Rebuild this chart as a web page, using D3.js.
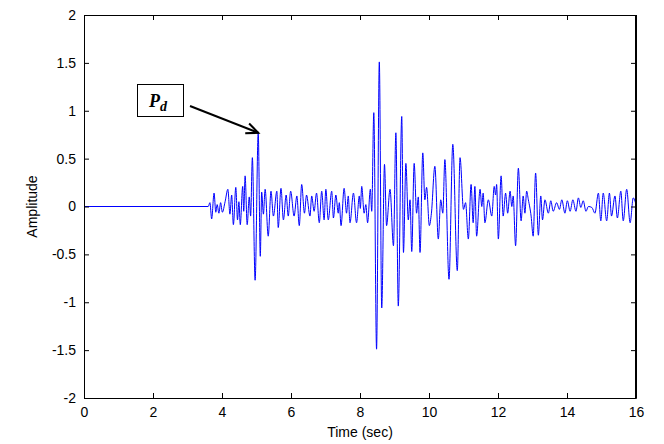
<!DOCTYPE html>
<html>
<head>
<meta charset="utf-8">
<script src="https://cdn.jsdelivr.net/npm/d3@7"></script>
<style>
  html, body { margin: 0; padding: 0; background: #fff; }
  svg { display: block; }
</style>
</head>
<body>
<div id="chart"></div>
<script>
// ---- data ----
const time = [
  0, 3.60, 3.65, 3.70, 3.77, 3.82, 3.86, 3.91, 3.96, 4.01,
  4.09, 4.17, 4.23, 4.28, 4.33, 4.40, 4.45, 4.49, 4.53, 4.60,
  4.63, 4.67, 4.73, 4.79, 4.83, 4.88, 4.96, 5.05, 5.11, 5.15,
  5.20, 5.25, 5.34, 5.42, 5.49, 5.59, 5.63, 5.71, 5.78, 5.86,
  5.92, 5.99, 6.09, 6.17, 6.24, 6.31, 6.39, 6.45, 6.55, 6.60,
  6.67, 6.74, 6.82, 6.89, 6.96, 7.01, 7.08, 7.18, 7.23, 7.30,
  7.37, 7.40, 7.45, 7.54, 7.61, 7.66, 7.71, 7.81, 7.90, 7.98,
  8.01, 8.05, 8.12, 8.17, 8.22, 8.30, 8.34, 8.40, 8.48, 8.56,
  8.63, 8.71, 8.77, 8.87, 8.97, 9.04, 9.11, 9.21, 9.26, 9.33,
  9.40, 9.45, 9.50, 9.57, 9.64, 9.69, 9.74, 9.82, 9.88, 9.93,
  10.01, 10.07, 10.17, 10.27, 10.34, 10.40, 10.46, 10.58, 10.69, 10.82,
  10.90, 11.00, 11.06, 11.14, 11.22, 11.28, 11.33, 11.38, 11.48, 11.53,
  11.57, 11.62, 11.72, 11.82, 11.89, 11.93, 11.96, 12.01, 12.09, 12.15,
  12.22, 12.28, 12.35, 12.40, 12.44, 12.51, 12.59, 12.67, 12.73, 12.78,
  12.83, 12.88, 12.96, 13.02, 13.09, 13.17, 13.24, 13.29, 13.36, 13.46,
  13.53, 13.60, 13.70, 13.78, 13.85, 13.94, 14.01, 14.09, 14.17, 14.26,
  14.33, 14.40, 14.47, 14.55, 14.62, 14.72, 14.81, 14.91, 14.98, 15.05,
  15.15, 15.23, 15.29, 15.39, 15.46, 15.56, 15.63, 15.73, 15.83, 15.92, 16.00
];
const amplitude = [
  0, 0, 0.04, -0.13, 0.14, -0.06, 0.02, -0.07, 0.04, -0.06,
  0.05, 0.18, -0.08, 0.12, -0.19, 0.20, -0.14, 0.05, -0.19, 0.21,
  -0.05, 0.32, -0.19, 0.10, -0.10, 0.51, -0.77, 0.77, -0.52, 0.15,
  -0.08, 0.18, -0.31, 0.16, -0.10, 0.16, -0.22, 0.19, -0.14, 0.12,
  -0.10, 0.16, -0.10, 0.11, -0.20, 0.23, -0.07, 0.12, -0.10, 0.11,
  -0.05, 0.14, -0.17, 0.16, -0.14, 0.18, -0.14, 0.16, -0.12, 0.12,
  -0.07, 0.04, -0.20, 0.19, -0.07, 0.11, -0.17, 0.14, -0.17, 0.11,
  -0.02, 0.21, -0.07, 0.02, -0.17, 0.18, -0.05, 0.98, -1.49, 1.51,
  -1.06, 0.44, -0.20, 0.18, -0.41, 0.77, -1.04, 0.94, -0.48, 0.45,
  -0.14, 0.07, -0.47, 0.45, -0.07, 0.10, -0.48, 0.56, 0.07, 0.20,
  -0.20, -0.07, 0.42, -0.34, 0.07, -0.07, 0.49, -0.76, 0.65, -0.67,
  0.51, -0.03, 0.04, -0.34, 0.23, -0.17, 0.21, -0.31, 0.18, 0.00,
  0.14, -0.17, 0.07, -0.10, 0.21, 0.12, 0.23, -0.34, 0.32, -0.10,
  0.14, -0.07, 0.16, 0.00, 0.11, -0.41, 0.40, -0.15, 0.11, -0.07,
  0.16, 0.07, -0.10, -0.31, 0.35, -0.30, 0.11, -0.14, 0.07, -0.07,
  0.06, -0.05, 0.04, -0.03, 0.07, -0.07, 0.06, -0.05, 0.07, -0.05,
  0.09, -0.01, 0.06, -0.05, 0.00, -0.01, -0.07, 0.14, -0.15, 0.14,
  -0.15, 0.14, -0.10, 0.11, -0.12, 0.16, -0.15, 0.18, -0.17, 0.09, 0.02
];
const xTicks = [0, 2, 4, 6, 8, 10, 12, 14, 16];
const yTicks = [-2, -1.5, -1, -0.5, 0, 0.5, 1, 1.5, 2];
const xLabel = "Time (sec)";
const yLabel = "Amplitude";
const pdTime = 5.05, pdAmp = 0.77;   // annotated P_d peak

// ---- layout ----
const W = 664, H = 444;
const L = 84, R = 636, T = 15, B = 398;

const svg = d3.select("#chart").append("svg")
  .attr("width", W).attr("height", H)
  .style("font-family", "'Liberation Sans', Arial, Helvetica, sans-serif");

svg.append("rect").attr("width", W).attr("height", H).attr("fill", "#fff");

const x = d3.scaleLinear().domain([0, 16]).range([L, R]);
const y = d3.scaleLinear().domain([-2, 2]).range([B, T]);

// waveform
const pts = time.map((t, i) => [t, amplitude[i]]);
const line = d3.line().x(d => x(d[0])).y(d => y(d[1])).curve(d3.curveMonotoneX);
svg.append("path")
  .datum(pts)
  .attr("d", line)
  .attr("fill", "none")
  .attr("stroke", "#0000ff")
  .attr("stroke-width", 1);

// axes (MATLAB style: inward ticks on all sides)
const tl = 5;
const axB = svg.append("g").attr("transform", `translate(0,${B})`)
  .call(d3.axisBottom(x).tickValues(xTicks).tickSizeInner(-tl).tickSizeOuter(0).tickPadding(9).tickFormat(d3.format("d")));
const axT = svg.append("g").attr("transform", `translate(0,${T})`)
  .call(d3.axisTop(x).tickValues(xTicks).tickSizeInner(-tl).tickSizeOuter(0).tickFormat(""));
const axL = svg.append("g").attr("transform", `translate(${L},0)`)
  .call(d3.axisLeft(y).tickValues(yTicks).tickSizeInner(-tl).tickSizeOuter(0).tickPadding(8).tickFormat(d => String(d)));
const axR = svg.append("g").attr("transform", `translate(${R},0)`)
  .call(d3.axisRight(y).tickValues(yTicks).tickSizeInner(-tl).tickSizeOuter(0).tickFormat(""));

[axB, axT, axL, axR].forEach(g => {
  g.select(".domain").attr("stroke", "#000").attr("stroke-width", 1);
  g.selectAll(".tick line").attr("stroke", "#000");
  g.selectAll("text").attr("fill", "#000").style("font-size", "14px")
    .style("font-family", "'Liberation Sans', Arial, sans-serif");
});

// full box border
svg.append("rect")
  .attr("x", L + 0.5).attr("y", T + 0.5).attr("width", R - L - 1).attr("height", B - T)
  .attr("fill", "none").attr("stroke", "#000").attr("stroke-width", 1);

// axis labels
svg.append("text")
  .attr("x", (L + R) / 2).attr("y", 437)
  .attr("text-anchor", "middle")
  .style("font-size", "14px")
  .text(xLabel);
svg.append("text")
  .attr("transform", `translate(37,${(T + B) / 2}) rotate(-90)`)
  .attr("text-anchor", "middle")
  .style("font-size", "14px")
  .text(yLabel);

// P_d annotation
const bx = 137, by = 84, bw = 46, bh = 32;
svg.append("rect")
  .attr("x", bx + 0.5).attr("y", by + 0.5).attr("width", bw).attr("height", bh)
  .attr("fill", "#fff").attr("stroke", "#000").attr("stroke-width", 1);
const pd = svg.append("text")
  .attr("x", bx + 12).attr("y", by + 23)
  .style("font-family", "'Liberation Serif', 'Times New Roman', serif")
  .style("font-weight", "bold").style("font-style", "italic")
  .style("font-size", "18px");
pd.append("tspan").text("P");
pd.append("tspan").attr("dy", 4).style("font-size", "14px").text("d");

const tipX = x(pdTime), tipY = y(pdAmp);
const sx = 190, sy = 106;
svg.append("line")
  .attr("x1", sx).attr("y1", sy).attr("x2", tipX).attr("y2", tipY)
  .attr("stroke", "#000").attr("stroke-width", 2);
const ang = Math.atan2(tipY - sy, tipX - sx);
const hl = 13, ha = 0.42;
svg.append("path")
  .attr("d", `M${tipX - hl * Math.cos(ang - ha)},${tipY - hl * Math.sin(ang - ha)} L${tipX},${tipY} L${tipX - hl * Math.cos(ang + ha)},${tipY - hl * Math.sin(ang + ha)}`)
  .attr("fill", "none").attr("stroke", "#000").attr("stroke-width", 2);
</script>
</body>
</html>
